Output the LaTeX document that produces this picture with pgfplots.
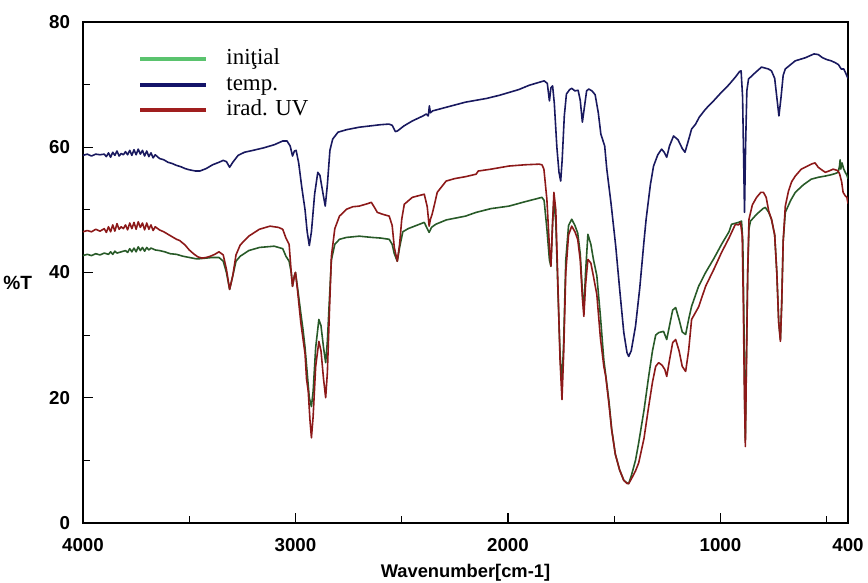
\documentclass[border=0pt]{standalone}
\usepackage{fontspec}
\setmainfont{Liberation Sans}
\newfontfamily\legfont{Liberation Serif}
\usepackage{pgfplots}
\pgfplotsset{compat=1.18}
\usetikzlibrary{calc}
\definecolor{cinit}{RGB}{40,90,40}
\definecolor{ctemp}{RGB}{25,25,95}
\definecolor{cuv}{RGB}{140,25,25}
\definecolor{linit}{RGB}{90,195,110}
\definecolor{ltemp}{RGB}{20,20,105}
\definecolor{luv}{RGB}{160,30,30}
\begin{document}
\begin{tikzpicture}
\begin{axis}[
  scale only axis,
  width=382.5bp, height=250.5bp,
  x dir=reverse,
  xmin=400, xmax=4000, ymin=0, ymax=80,
  xtick={4000,3000,2000,1000,400},
  minor xtick={3500,2500,1500,500},
  ytick={0,20,40,60,80},
  minor ytick={10,30,50,70},
  tick pos=left,
  tick align=inside,
  major tick length=5bp,
  minor tick length=3.5bp,
  axis line style={line width=0.7pt},
  every tick/.style={black, line width=0.6pt},
  /pgf/number format/assume math mode=true,
  /pgf/number format/1000 sep={},
  tick label style={font=\bfseries\fontsize{9.4}{10}\selectfont},
  yticklabel style={xshift=-3bp},
  xticklabel style={yshift=-4bp},
  xlabel={Wavenumber[cm-1]},
  xlabel style={font=\bfseries\fontsize{9.2}{10}\selectfont, at={(rel axis cs:0.5,0)}, anchor=center, yshift=-25bp},
  ylabel={\%T},
  ylabel style={font=\bfseries\fontsize{9.6}{10}\selectfont, rotate=-90, at={(rel axis cs:0,0.479)}, anchor=east, xshift=-22bp},
  legend style={draw=none, fill=none, at={(rel axis cs:0.072,0.947)}, anchor=north west,
    inner sep=0pt, font=\legfont\fontsize{11.5}{12}\selectfont,
    nodes={inner ysep=0pt, text height=8bp, text depth=2.5bp},
    row sep=2.25bp, column sep=7bp},
  legend cell align=left,
  legend image code/.code={\draw[#1, line width=2pt] (0bp,0bp) -- (33bp,0bp);},
  every axis plot/.append style={line width=0.8pt, line join=round},
]
\addplot[color=cinit, legend image post style={color=linit}] coordinates {
(4000,42.7)(3980,42.9)(3960,42.7)(3940,43.0)(3920,42.8)(3900,43.1)(3880,42.9)(3870,43.3)(3860,42.9)(3850,43.4)
(3840,43.1)(3820,43.3)(3800,43.5)(3790,43.2)(3780,43.8)(3770,43.3)(3760,43.9)(3750,43.3)(3740,44.1)(3730,43.5)
(3720,44.0)(3710,43.4)(3700,44.0)(3690,43.6)(3680,43.9)(3660,43.6)(3640,43.5)(3615,43.3)(3590,43.0)(3560,42.9)
(3530,42.6)(3500,42.4)(3470,42.2)(3451,42.2)(3420,42.3)(3390,42.4)(3360,42.4)(3340,41.8)(3325,40)(3310,37.3)
(3295,39.5)(3280,41.8)(3260,42.6)(3220,43.5)(3169,44.0)(3100,44.2)(3060,43.8)(3045,42.6)(3030,41.8)(3020,40)
(3014,37.8)(3005,39.5)(3000,40)(2990,37.5)(2975,33.5)(2965,31)(2955,28)(2945,24)(2935,20)(2925,18.6)
(2917,21)(2905,28)(2890,32.5)(2880,31.5)(2868,28)(2858,25.6)(2850,29)(2840,36)(2831,42)(2815,44.5)
(2793,45.3)(2760,45.6)(2700,45.8)(2640,45.6)(2600,45.5)(2559,45.3)(2545,44.5)(2535,43)(2521,41.8)(2510,44)
(2495,46.5)(2470,47)(2394,48)(2380,47)(2371,46.4)(2360,47.2)(2340,47.7)(2290,48.4)(2200,49)(2150,49.6)
(2080,50.2)(1995,50.6)(1920,51.3)(1840,52)(1830,51.5)(1817,47)(1805,42)(1798,41)(1790,48)(1784,51.5)
(1775,48)(1765,37)(1755,27)(1746,22)(1738,29)(1728,42)(1715,47.5)(1700,48.5)(1685,47.5)(1672,46.3)
(1660,43)(1650,37)(1643,34)(1635,40)(1624,46.1)(1610,44.5)(1598,42.1)(1582,39.5)(1565,33)(1549,26)
(1540,23.6)(1525,19.5)(1512,15)(1495,11)(1475,8.5)(1455,6.8)(1440,6.4)(1432,6.3)(1420,7.5)(1400,10)
(1385,12.8)(1360,18)(1338,23.4)(1320,27.5)(1305,30)(1291,30.4)(1268,30.6)(1253,29.3)(1240,31.5)(1225,34)
(1211,34.4)(1195,32.5)(1180,30.5)(1164,30.1)(1150,32.5)(1136,34.6)(1103,37.8)(1070,40)(1030,42.3)(995,44.5)
(960,46.5)(948,47.7)(915,48)(901,48.2)(895,45)(890,33)(885,16)(883,13.2)(878,26)(872,40)
(866,47)(859,48.2)(830,49.3)(800,50.2)(789,50.4)(773,49.6)(760,48.5)(745,46)(735,40)(726,32)
(718,29.3)(712,35)(705,45)(695,49.6)(670,51.5)(648,52.8)(610,54)(573,54.9)(540,55.2)(507,55.4)
(480,55.6)(460,55.8)(446,56)(440,57)(437,58)(434,56.5)(428,57.5)(420,56.5)(413,56)(405,55.5)(400,55)
};
\addlegendentry{iniţial}
\addplot[color=ctemp, legend image post style={color=ltemp}] coordinates {
(4000,58.7)(3980,58.9)(3960,58.6)(3940,58.9)(3920,58.8)(3900,58.9)(3890,58.5)(3880,59.1)(3870,58.4)(3860,59.2)
(3850,58.7)(3840,59.4)(3830,58.6)(3820,59.0)(3810,58.8)(3800,59.3)(3790,58.8)(3780,59.5)(3770,58.7)(3760,59.6)
(3750,58.8)(3740,59.7)(3730,58.9)(3720,59.5)(3710,58.6)(3700,59.4)(3690,58.5)(3680,59.1)(3670,58.3)(3660,58.8)
(3640,58.2)(3620,58.0)(3600,57.6)(3580,57.4)(3560,57.1)(3540,56.9)(3520,56.6)(3500,56.4)(3470,56.2)(3450,56.2)
(3420,56.6)(3390,57.2)(3360,57.6)(3340,57.9)(3325,57.7)(3310,56.8)(3295,57.6)(3270,58.7)(3240,59.2)(3200,59.5)
(3150,59.9)(3100,60.4)(3060,61.0)(3040,61.0)(3025,60.2)(3014,58.6)(3005,59.4)(2997,59.5)(2985,57.5)(2970,53.5)
(2955,50)(2945,46.5)(2935,44.3)(2925,46.5)(2910,52.5)(2895,56)(2885,55.5)(2870,52.5)(2860,50.6)(2850,54)
(2838,59.5)(2825,61.3)(2800,62.4)(2760,62.8)(2700,63.2)(2650,63.4)(2600,63.6)(2560,63.7)(2545,63.5)(2530,62.5)
(2520,62.6)(2505,63.0)(2490,63.4)(2450,64.2)(2400,65.0)(2385,65.3)(2375,65.0)(2370,66.6)(2365,65.5)(2355,65.8)
(2300,66.3)(2200,67.2)(2100,67.8)(2040,68.3)(1950,69.2)(1900,69.9)(1860,70.3)(1830,70.6)(1815,70.2)(1805,67.4)
(1798,69.5)(1790,69.8)(1782,67)(1770,60)(1760,56)(1752,54.6)(1745,58)(1735,65)(1725,68.5)(1710,69.2)
(1700,69.4)(1685,69.0)(1670,69.1)(1660,67.5)(1650,64)(1642,66)(1630,69)(1620,69.3)(1605,69)(1590,68.4)
(1575,65.5)(1563,62.1)(1545,60.2)(1535,56.5)(1515,51)(1493,44.2)(1475,37.5)(1455,30.4)(1440,27.2)(1432,26.6)
(1420,27.5)(1400,31.4)(1380,37.5)(1360,45)(1350,48.5)(1330,54)(1315,57)(1295,58.8)(1277,59.7)(1265,59.2)
(1253,58.4)(1240,60.2)(1221,61.8)(1200,61.2)(1180,59.8)(1167,59.2)(1150,61.2)(1136,62.9)(1117,63.7)(1100,64.8)
(1070,66.1)(1030,67.5)(995,68.8)(960,70)(930,71.2)(910,72.1)(903,72.2)(896,68)(891,58)(887,49.6)
(882,60)(876,69)(868,70.9)(840,71.8)(807,72.8)(775,72.5)(760,72.2)(745,71)(735,68)(725,65)
(715,68)(705,71.5)(695,72.5)(670,73.2)(648,73.8)(600,74.3)(560,74.9)(540,74.8)(520,74.3)(500,74.0)
(479,73.8)(460,73.5)(445,73.2)(432,72.5)(420,72.5)(413,72)(400,71)
};
\addlegendentry{temp.}
\addplot[color=cuv, legend image post style={color=luv}] coordinates {
(4000,46.5)(3980,46.7)(3960,46.5)(3940,46.9)(3920,46.6)(3900,47.0)(3890,46.4)(3880,47.3)(3870,46.5)(3860,47.6)
(3850,46.6)(3840,47.8)(3830,46.9)(3820,47.3)(3810,47.0)(3800,47.6)(3790,46.8)(3780,47.9)(3770,47.0)(3760,48.0)
(3750,46.9)(3740,48.1)(3730,47.2)(3720,47.9)(3710,46.8)(3700,47.9)(3690,46.9)(3680,47.6)(3670,46.7)(3660,47.3)
(3640,46.8)(3620,46.5)(3600,46.1)(3580,45.7)(3560,45.3)(3545,45.1)(3520,44.4)(3500,43.6)(3480,43)(3460,42.5)
(3440,42.3)(3420,42.4)(3400,42.6)(3380,42.9)(3360,43.3)(3340,42.8)(3325,40.5)(3310,37.3)(3295,39.5)(3280,42.8)
(3260,44.4)(3220,45.8)(3170,46.9)(3120,47.4)(3080,47.2)(3060,46.9)(3045,45.5)(3030,44.5)(3020,40)(3014,37.8)
(3005,39.5)(3000,40)(2990,37)(2975,32)(2965,29.5)(2955,27)(2948,23)(2940,21)(2932,16.5)(2925,13.6)
(2917,17)(2905,25)(2890,29)(2880,27.5)(2868,23)(2858,20)(2850,24)(2840,34)(2831,42.6)(2815,47)
(2793,49)(2760,50.1)(2730,50.5)(2700,50.6)(2660,51)(2643,51.2)(2625,50.2)(2615,49.6)(2590,49.3)(2559,49)
(2545,47.5)(2535,44)(2521,41.8)(2510,44.5)(2500,48.5)(2488,50.9)(2450,52)(2394,52.5)(2380,50.5)(2371,47.4)
(2365,48.5)(2357,49.3)(2345,51)(2333,52.8)(2291,54.6)(2250,55)(2200,55.3)(2150,55.7)(2140,56.2)(2080,56.5)
(1995,57)(1920,57.2)(1854,57.3)(1840,57.2)(1831,56.5)(1817,51.7)(1805,44)(1798,41)(1790,48)(1784,52.8)
(1775,50)(1765,38)(1755,26)(1746,19.7)(1738,27)(1728,40)(1715,46)(1700,47.4)(1685,46.5)(1672,45.3)
(1660,42)(1650,36)(1643,33)(1635,38)(1624,42.1)(1610,41.5)(1598,39.4)(1582,36.5)(1565,29.5)(1549,25)
(1540,23.4)(1525,19)(1512,14.8)(1495,11)(1475,8.5)(1455,6.8)(1440,6.3)(1432,6.3)(1420,7.0)(1400,8.3)
(1385,9.6)(1360,13.5)(1338,18.6)(1320,22.5)(1305,25)(1291,25.6)(1275,25.2)(1262,24.5)(1253,23.4)(1240,26)
(1225,28.8)(1211,29.3)(1195,27.5)(1180,25)(1164,24.2)(1150,27.5)(1136,32.5)(1103,34.5)(1070,37.8)(1030,40.6)
(995,43.2)(960,45.5)(930,47.7)(915,47.6)(906,48)(898,46)(893,36)(888,22)(883,12.2)(878,25)
(872,40)(866,48.5)(850,50.8)(830,52)(810,52.8)(798,52.8)(785,52)(773,49.8)(760,48.5)(745,46)
(735,40)(726,32)(718,29)(712,35)(705,45)(695,50.6)(680,53)(665,54.5)(648,55.4)(620,56.5)
(590,57)(573,57.3)(555,57.5)(540,56.8)(520,56.3)(507,56)(490,56.2)(470,56.5)(450,56.3)(440,55.8)
(430,54.5)(423,52.8)(412,52.2)(405,52)(400,51)
};
\addlegendentry{irad. UV}
\end{axis}
\pgfresetboundingbox
\path ($(current axis.south west)+(-41.5bp,-30bp)$) rectangle ($(current axis.north east)+(10bp,11bp)$);
\end{tikzpicture}
\end{document}
